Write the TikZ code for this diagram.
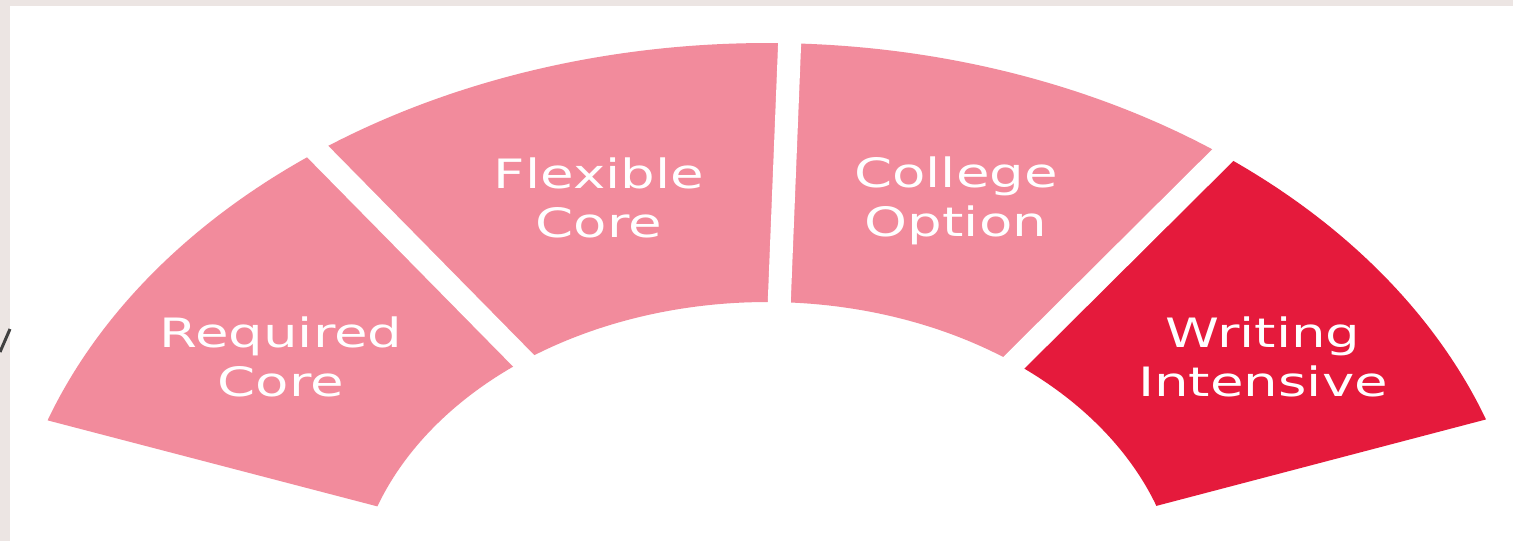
\documentclass[tikz,border=0pt]{standalone}
\usepackage{fontspec}
\usepackage{xcolor}
\usepackage{tikz}
\newfontfamily\segfont{DejaVu Sans}
\definecolor{segpink}{RGB}{242,139,156}
\definecolor{segred}{RGB}{229,26,60}
\definecolor{slideband}{RGB}{236,229,227}

\begin{document}
\begin{tikzpicture}[x=0.01cm, y=0.01cm,
    segtext/.style={text=white, font=\segfont\fontsize{11.5}{14}\selectfont, align=center, anchor=north, inner sep=0pt, xscale=1.35},
    gapline/.style={white, line width=0.23cm}]
    % Fond
    \useasboundingbox (0,0) rectangle (1513,541);
    \fill[slideband] (0,0) rectangle (1513,541);
    \fill[white] (10,0) rectangle (1513,535);
    \draw[line width=0.03cm, black!75] (0,189) -- (10,212);

    % Secteurs
    \begin{scope}[shift={(767,-67)}, xscale=1.35]
        \fill[segpink] (160.6:565) arc[start angle=160.6, end angle=126.1, radius=565] -- (126.1:306) arc[start angle=126.1, end angle=160.6, radius=306] -- cycle;
        \fill[segpink] (126.1:565) arc[start angle=126.1, end angle=88.3, radius=565] -- (88.3:306) arc[start angle=88.3, end angle=126.1, radius=306] -- cycle;
        \fill[segpink] (88.3:565) arc[start angle=88.3, end angle=53.3, radius=565] -- (53.3:306) arc[start angle=53.3, end angle=88.3, radius=306] -- cycle;
        \fill[segred] (53.3:565) arc[start angle=53.3, end angle=19.5, radius=565] -- (19.5:306) arc[start angle=19.5, end angle=53.3, radius=306] -- cycle;

        % Espaces
        \draw[gapline] (126.1:290) -- (126.1:590);
        \draw[gapline] (88.3:290) -- (88.3:590);
        \draw[gapline] (53.3:290) -- (53.3:590);
    \end{scope}

    % Textes
    \node[segtext] (req) at (281,225) {Required\\Core};
    \node[segtext] (flex) at (599,384) {Flexible\\Core};
    \node[segtext] (coll) at (956,385) {College\\Option};
    \node[segtext] (writ) at (1263,225) {Writing\\Intensive};
\end{tikzpicture}
\end{document}
